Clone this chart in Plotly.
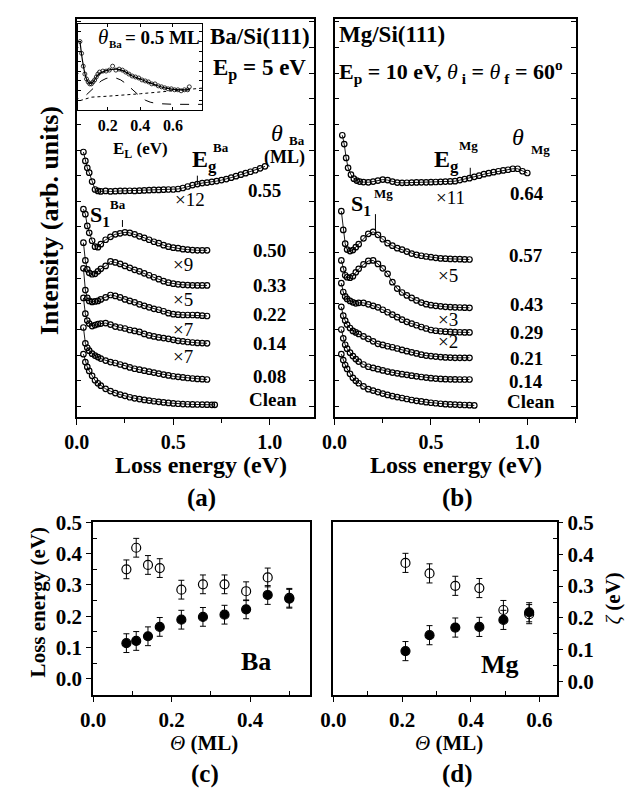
import plotly.graph_objects as go

W, H = 636, 789
FONT = "Liberation Serif, Times New Roman, serif"

# ---------------- panel (a): Ba/Si(111) spectra (arb. units) ----------------
E_A = [0.035, 0.045, 0.055, 0.065, 0.08, 0.095, 0.11, 0.125, 0.15, 0.175, 0.2, 0.225,
       0.25, 0.275, 0.3, 0.325, 0.35, 0.375, 0.4, 0.425, 0.45, 0.475, 0.5, 0.525,
       0.55, 0.575, 0.6, 0.625, 0.65, 0.675]
E_A_CLEAN = E_A + [0.7, 0.715]
E_A_055 = E_A + [0.7, 0.725, 0.75, 0.775, 0.8, 0.825, 0.85, 0.875, 0.9, 0.925, 0.95, 0.975]

ba_clean = [69, 61, 56, 52, 47, 42.5, 39.5, 37, 33.8, 31.5, 29.5, 28, 26.7, 25.3, 24.2, 23.4,
            22.6, 21.9, 21.2, 20.6, 20, 19.5, 19, 18.7, 18.4, 18.2, 18, 17.9, 17.8, 17.7, 17.6, 17.6]
ba_008 = [96, 80, 75.5, 72.5, 69.5, 67.5, 66, 64.5, 62.5, 61, 60, 58.5, 57, 55.5, 54.2, 53.2,
          52.2, 51.2, 50.3, 49.3, 48.3, 47.4, 46.6, 46, 45.4, 44.8, 44.3, 43.9, 43.6, 43.3]
ba_014 = [126, 110, 103, 100, 97.5, 98.5, 99.5, 100, 100.5, 99, 97, 96, 95, 93.5, 92.5, 91.5,
          89.5, 88, 87, 86, 85.3, 84.5, 83.5, 82.5, 82, 81.3, 80.8, 80.4, 80.2, 80]
ba_022 = [156, 134, 126, 123, 122, 122.5, 123, 124.5, 126.5, 129, 128, 126.5, 124.5, 123, 121.5,
          119.5, 118, 116.5, 115, 114, 112.5, 110.5, 109.5, 109, 108.7, 108.7, 108.7, 108.5, 108, 107.7]
ba_033 = [182, 164, 155, 151.5, 150, 150.5, 153, 155.5, 158.5, 163, 162, 160.5, 158.5, 156.5, 154.5,
          153, 151, 149, 147, 145, 143, 141.5, 140.5, 139.8, 139.3, 139, 138.8, 138.7, 138.7, 138.7]
ba_050 = [216, 211, 199, 192, 184, 178, 177.5, 180.5, 185, 188, 190.5, 191.5, 192.5, 192, 190.5,
          188.5, 187, 185, 183, 181.5, 179.5, 178, 177, 176.5, 175.5, 175, 174.5, 174.3, 174.3, 174.3]
ba_055 = [274, 265, 258, 253, 244, 236, 234.5, 234, 234.5, 234, 234.3, 234.5, 234.5, 234.7, 234.5,
          234.8, 235, 235.3, 235.5, 235.5, 235.8, 236, 236, 236.5, 237.5, 239, 240.5, 241.5, 242.5,
          243, 243.8, 244.5, 245.5, 246.5, 248, 249.5, 251, 252.5, 254, 255.5, 257.5, 259.5]
ba_labels = ["0.55", "0.50", "0.33", "0.22", "0.14", "0.08", "Clean"]
ba_factors = ["\u00d712", "\u00d79", "\u00d75", "\u00d77", "\u00d77"]

# inset: theta_Ba = 0.5 ML
E_IN = [0.03, 0.04, 0.05, 0.06, 0.07, 0.08, 0.09, 0.1, 0.11, 0.12, 0.13, 0.14, 0.15, 0.17, 0.19,
        0.21, 0.23, 0.25, 0.27, 0.29, 0.31, 0.33, 0.35, 0.37, 0.39, 0.41, 0.43, 0.45, 0.47, 0.49,
        0.51, 0.53, 0.55, 0.57, 0.59, 0.61, 0.63, 0.65, 0.67, 0.69, 0.7]
in_data = [70, 58, 45, 37, 32, 29, 27, 27, 29, 31, 34, 37, 39, 40, 40, 41, 45, 41, 42, 41, 39, 37,
           35, 34, 33, 31, 30, 29, 27, 27, 25, 24, 23, 22, 22, 21, 21, 20, 21, 21, 24]
E_IN_FIT = [0.03, 0.05, 0.07, 0.09, 0.11, 0.14, 0.18, 0.22, 0.26, 0.3, 0.35, 0.4, 0.45, 0.5, 0.55,
            0.6, 0.65, 0.7]
in_fit = [70, 46, 32, 27.5, 29, 36, 40, 41.5, 42, 40, 35, 32, 28.5, 25.5, 23, 21.5, 21, 21]
E_IN_PEAK = [0.07, 0.1, 0.13, 0.16, 0.19, 0.22, 0.25, 0.28, 0.31, 0.34, 0.37, 0.4, 0.43, 0.46,
             0.5, 0.55, 0.6, 0.7, 0.78]
in_peak = [16, 21, 26, 30, 32.5, 33.5, 33, 31, 27.5, 23, 18, 14, 10.5, 8.5, 7, 6.5, 6.3, 6.2, 6.2]
E_IN_BG = [0.03, 0.1, 0.2, 0.3, 0.4, 0.5, 0.6, 0.7, 0.78]
in_bg = [10, 13.5, 14.5, 15.5, 17, 18.5, 20, 21.5, 22.7]

# ---------------- panel (b): Mg/Si(111) spectra ----------------
E_B = E_A + [0.7]
E_B_CLEAN = E_B + [0.725]
E_B_064 = [0.04, 0.05, 0.06, 0.07, 0.085, 0.1, 0.115, 0.13, 0.15, 0.175, 0.2, 0.225, 0.25, 0.275,
           0.3, 0.325, 0.35, 0.375, 0.4, 0.425, 0.45, 0.475, 0.5, 0.525, 0.55, 0.575, 0.6, 0.625,
           0.65, 0.675, 0.7, 0.725, 0.75, 0.775, 0.8, 0.825, 0.85, 0.875, 0.9, 0.925, 0.95, 0.975, 1.0]

mg_clean = [69, 63, 58, 54, 49, 45, 42, 39.5, 36.3, 33.5, 32, 30.5, 29, 27.6, 26.5, 25.5, 24.5,
            23.5, 22.5, 21.7, 21, 20.3, 19.7, 19.2, 18.7, 18.3, 18, 17.8, 17.6, 17.4, 17.2, 17]
mg_014 = [94, 85, 78.5, 74.5, 70.5, 67, 64, 61.5, 58.5, 56.2, 55, 53.8, 52.5, 51.3, 50.3, 49.5,
          48.7, 48, 47.2, 46.5, 45.8, 45.2, 44.6, 44.2, 43.9, 43.6, 43.5, 43.4, 43.3, 43.3, 43.3]
mg_021 = [117, 108, 103, 99, 95.5, 92.5, 91, 89.5, 87, 84.5, 82, 79.5, 78.3, 77, 76, 74.7, 73.3,
          72, 70.8, 69.7, 68.5, 67.5, 67, 66.5, 66, 65.7, 65.5, 65.3, 65.3, 65.3, 65.3]
mg_029 = [141, 132, 127.5, 125, 123, 121.5, 120.5, 121, 121, 119.5, 118, 116.5, 114, 111.5, 109,
          106.5, 104, 101.8, 100, 98.3, 96.5, 95, 93.5, 92.7, 92.2, 91.8, 91.5, 91.3, 91.2, 91, 91]
mg_043 = [164, 155, 149, 147, 146.5, 148, 152, 155.5, 160, 163.5, 164, 160.5, 156, 150.5, 142,
          135.5, 131.5, 128.5, 126, 123.5, 121.3, 119.7, 118.7, 118, 117.5, 117, 116.7, 116.5,
          116.3, 116.1, 116]
mg_057 = [214, 195, 181, 175, 173.5, 174.5, 177.5, 180.5, 186.5, 191, 193, 190, 185.5, 181.5, 179,
          176.5, 175, 173, 171, 169.7, 168.8, 168, 167.3, 166.7, 166.1, 165.8, 165.6, 165.4, 165.3,
          165.1, 165]
mg_064 = [291, 282, 268, 258, 251, 247, 245, 244, 243.5, 243.3, 244, 245, 246, 245.5, 244, 243,
          242.7, 242.8, 243, 243.2, 243.3, 243.3, 243.4, 243.6, 243.8, 244, 244.2, 244.4, 245.5,
          246.5, 247.5, 248.8, 250, 251.5, 252.5, 253.5, 254.5, 255.3, 256, 257, 257, 254.5, 252.7]
mg_labels = ["0.64", "0.57", "0.43", "0.29", "0.21", "0.14", "Clean"]
mg_factors = ["\u00d711", "\u00d75", "\u00d73", "\u00d72"]

# ---------------- panel (c): Ba, loss energies vs coverage ----------------
theta_ba = [0.085, 0.11, 0.14, 0.17, 0.225, 0.28, 0.335, 0.39, 0.445, 0.5]
ba_open = [0.350, 0.419, 0.364, 0.354, 0.285, 0.302, 0.302, 0.280, 0.324, 0.259]
ba_filled = [0.114, 0.121, 0.136, 0.166, 0.189, 0.198, 0.205, 0.222, 0.268, 0.256]

# ---------------- panel (d): Mg ----------------
theta_mg = [0.21, 0.28, 0.355, 0.425, 0.495, 0.57]
mg_open = [0.373, 0.340, 0.301, 0.294, 0.225, 0.212]
mg_filled = [0.096, 0.146, 0.170, 0.172, 0.194, 0.218]
err = 0.03

fig = go.Figure()


def spectrum(x, y, xa, ya):
    fig.add_trace(go.Scatter(
        x=x, y=y, xaxis=xa, yaxis=ya, mode="lines+markers", showlegend=False,
        line=dict(color="black", width=0.9),
        marker=dict(symbol="circle-open", size=5.5, color="black", line=dict(width=1.2, color="black"))))


for yy, xx in [(ba_clean, E_A_CLEAN), (ba_008, E_A), (ba_014, E_A), (ba_022, E_A),
               (ba_033, E_A), (ba_050, E_A), (ba_055, E_A_055)]:
    spectrum(xx, yy, "x", "y")

for yy, xx in [(mg_clean, E_B_CLEAN), (mg_014, E_B), (mg_021, E_B), (mg_029, E_B),
               (mg_043, E_B), (mg_057, E_B), (mg_064, E_B_064)]:
    spectrum(xx, yy, "x2", "y2")

# inset
fig.add_trace(go.Scatter(x=E_IN_BG, y=in_bg, xaxis="x3", yaxis="y3", mode="lines", showlegend=False,
                         line=dict(color="black", width=1, dash="dot")))
fig.add_trace(go.Scatter(x=E_IN_PEAK, y=in_peak, xaxis="x3", yaxis="y3", mode="lines", showlegend=False,
                         line=dict(color="black", width=1, dash="dash")))
fig.add_trace(go.Scatter(x=E_IN_FIT, y=in_fit, xaxis="x3", yaxis="y3", mode="lines", showlegend=False,
                         line=dict(color="black", width=1.2, shape="spline")))
fig.add_trace(go.Scatter(x=E_IN, y=in_data, xaxis="x3", yaxis="y3", mode="markers", showlegend=False,
                         marker=dict(symbol="circle-open", size=4, color="black", line=dict(width=0.8))))


def points(x, y, xa, ya, filled):
    fig.add_trace(go.Scatter(
        x=x, y=y, xaxis=xa, yaxis=ya, mode="markers", showlegend=False,
        error_y=dict(type="constant", value=err, color="black", thickness=1, width=3),
        marker=dict(symbol="circle" if filled else "circle-open", size=9, color="black",
                    line=dict(width=1.2, color="black"))))


points(theta_ba, ba_open, "x4", "y4", False)
points(theta_ba, ba_filled, "x4", "y4", True)
points(theta_mg, mg_open, "x5", "y5", False)
points(theta_mg, mg_filled, "x5", "y5", True)


def px(v):
    return v / W


def py(v):
    return 1 - v / H


ax_common = dict(showline=True, linecolor="black", linewidth=1.5, showgrid=False, zeroline=False,
                 tickcolor="black", tickfont=dict(family=FONT, size=20, color="black", weight="bold"))

spec_x = dict(ax_common, range=[0, 1.23], tickvals=[0, 0.5, 1.0], ticktext=["0.0", "0.5", "1.0"],
              ticks="outside", ticklen=6, mirror=True,
              minor=dict(tickvals=[0.25, 0.75, 1.25], ticks="outside", ticklen=4, tickcolor="black"))
spec_y = dict(ax_common, range=[5, 409.3], showticklabels=False, ticks="inside", ticklen=5,
              tick0=16, dtick=26, mirror="ticks")

small = dict(ax_common, tickfont=dict(family=FONT, size=21, color="black", weight="bold"),
             ticks="outside", ticklen=5, mirror=True)

fig.update_layout(
    width=W, height=H, margin=dict(l=0, r=0, t=0, b=0),
    paper_bgcolor="white", plot_bgcolor="white",
    xaxis=dict(spec_x, domain=[px(65), px(307.5)], anchor="y"),
    yaxis=dict(spec_y, domain=[py(411.5), py(6.7)], anchor="x"),
    xaxis2=dict(spec_x, domain=[px(328.3), px(575)], anchor="y2", range=[0, 1.254]),
    yaxis2=dict(spec_y, domain=[py(411.5), py(6.7)], anchor="x2"),
    xaxis3=dict(ax_common, domain=[px(66.7), px(193.3)], anchor="y3", range=[0.02, 0.78],
                tickvals=[0.2, 0.4, 0.6], ticktext=["0.2", "0.4", "0.6"], ticks="inside", ticklen=3,
                mirror="ticks", linewidth=1,
                tickfont=dict(family=FONT, size=16, color="black", weight="bold")),
    yaxis3=dict(ax_common, domain=[py(100), py(11.7)], anchor="x3", range=[0, 88.3],
                showticklabels=False, ticks="inside", ticklen=3, dtick=10, tick0=0, mirror="ticks",
                linewidth=1),
    xaxis4=dict(small, domain=[px(81.7), px(303.3)], anchor="y4", range=[0, 0.553],
                tickvals=[0, 0.2, 0.4], ticktext=["0.0", "0.2", "0.4"],
                minor=dict(tickvals=[0.1, 0.3, 0.5], ticks="inside", ticklen=4, tickcolor="black")),
    yaxis4=dict(small, domain=[py(693.3), py(518.3)], anchor="x4", range=[-0.051, 0.5],
                tickvals=[0, 0.1, 0.2, 0.3, 0.4, 0.5], ticktext=["0.0", "0.1", "0.2", "0.3", "0.4", "0.5"],
                minor=dict(tickvals=[0.05, 0.15, 0.25, 0.35, 0.45], ticks="inside", ticklen=4,
                           tickcolor="black")),
    xaxis5=dict(small, domain=[px(327), px(555)], anchor="y5", range=[0, 0.65],
                tickvals=[0, 0.2, 0.4, 0.6], ticktext=["0.0", "0.2", "0.4", "0.6"],
                minor=dict(tickvals=[0.1, 0.3, 0.5], ticks="inside", ticklen=4, tickcolor="black")),
    yaxis5=dict(small, domain=[py(693.3), py(518.3)], anchor="x5", range=[-0.041, 0.5], side="right",
                tickvals=[0, 0.1, 0.2, 0.3, 0.4, 0.5], ticktext=["0.0", "0.1", "0.2", "0.3", "0.4", "0.5"],
                minor=dict(tickvals=[0.05, 0.15, 0.25, 0.35, 0.45], ticks="inside", ticklen=4,
                           tickcolor="black")),
)

anns = []


def ann(text, x, y, size=19, bold=True, xanchor="center", angle=0):
    anns.append(dict(text=text, x=px(x), y=py(y), xref="paper", yref="paper", showarrow=False,
                     xanchor=xanchor, yanchor="middle", textangle=angle,
                     font=dict(family=FONT, size=size, color="black",
                               weight="bold" if bold else "normal")))


NI = "<i style='font-weight:normal'>"

# panel (a) texts
ann("Ba/Si(111)", 199, 25, 23, xanchor="left")
ann("E<sub>p</sub> = 5 eV", 202, 58, 23, xanchor="left")
ann("<i>\u03b8</i>", 270, 123, 24, bold=False)
ann("Ba", 290, 130, 13)
ann("(ML)", 277, 148, 18)
ann("E<sub>g</sub>", 196, 151, 24)
ann("Ba", 212, 138, 13)
ann("S<sub>1</sub>", 89, 207, 22)
ann("Ba", 107, 195, 13)
for t, (xx, yy) in zip(ba_labels, [(257, 181), (262, 242), (262, 278), (262, 307), (262, 337),
                                   (262, 370), (265, 393)]):
    ann(t, xx, yy, 19)
for t, (xx, yy) in zip(ba_factors, [(181, 190), (174, 256), (174, 292), (174, 322), (174, 350)]):
    ann(t, xx, yy, 19, bold=False)

# inset texts
ann("<i>\u03b8</i>", 92, 25, 21, bold=False)
ann("Ba", 105, 33, 11)
ann("= 0.5 ML", 153, 26, 19)
ann("E<sub>L</sub> (eV)", 130, 140, 17)

# panel (b) texts
ann("Mg/Si(111)", 331, 23, 23, xanchor="left")
ann("E<sub>p</sub> = 10 eV, " + NI + "\u03b8</i><sub> i</sub> = " + NI + "\u03b8</i><sub> f</sub> = 60<sup>o</sup>",
    331, 60, 22, xanchor="left")
ann("<i>\u03b8</i>", 516, 127, 24, bold=False)
ann("Mg", 538, 140, 13)
ann("E<sub>g</sub>", 443, 151, 24)
ann("Mg", 465, 136, 13)
ann("S<sub>1</sub>", 355, 196, 22)
ann("Mg", 378, 184, 13)
for t, (xx, yy) in zip(mg_labels, [(525, 184), (524, 247), (524, 297), (524, 325), (524, 352),
                                   (524, 375), (529, 396)]):
    ann(t, xx, yy, 19)
for t, (xx, yy) in zip(mg_factors, [(447, 188), (444, 268), (444, 312), (444, 335)]):
    ann(t, xx, yy, 19, bold=False)

# axis titles and panel letters
ann("Intensity (arb. units)", 38, 212, 26, angle=-90)
ann("Loss energy (eV)", 192, 460, 24)
ann("Loss energy (eV)", 452, 460, 24)
ann("(a)", 192, 494, 25)
ann("(b)", 454, 494, 25)
ann("Loss energy (eV)", 25, 599, 21, angle=-90)
ann(NI + "\u03b6</i> (eV)", 612, 595, 21, angle=-90)
ann(NI + "\u0398</i> (ML)", 195, 742, 21)
ann(NI + "\u0398</i> (ML)", 445, 742, 21)
ann("(c)", 196, 774, 25)
ann("(d)", 454, 774, 25)
ann("Ba", 248, 660, 26)
ann("Mg", 497, 663, 26)

fig.update_layout(annotations=anns)

# short marker lines for S1 and Eg positions
line_style = dict(color="black", width=1)
fig.update_layout(shapes=[
    dict(type="line", xref="x", yref="y", x0=0.237, x1=0.237, y0=198, y1=205, line=line_style),
    dict(type="line", xref="x", yref="y", x0=0.625, x1=0.625, y0=241, y1=250, line=line_style),
    dict(type="line", xref="x2", yref="y2", x0=0.212, x1=0.212, y0=194, y1=211, line=line_style),
    dict(type="line", xref="x2", yref="y2", x0=0.704, x1=0.704, y0=248, y1=258, line=line_style),
])

fig.write_html("out.html")
